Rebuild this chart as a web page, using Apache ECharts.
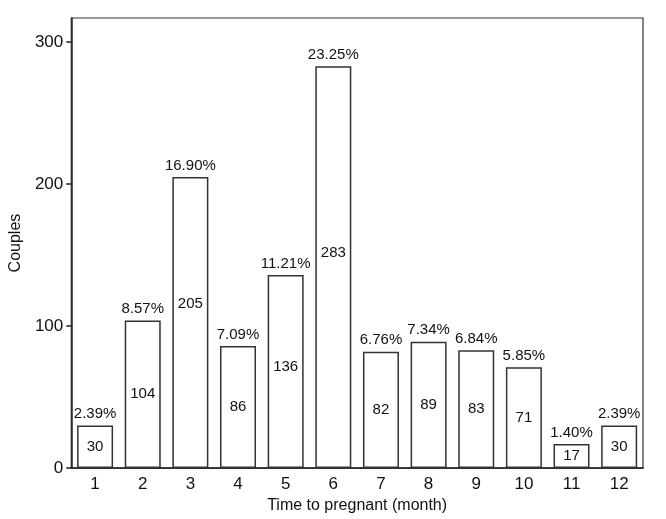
<!DOCTYPE html>
<html><head><meta charset="utf-8">
<script src="https://cdn.jsdelivr.net/npm/echarts@6/dist/echarts.min.js"></script>
<style>html,body{margin:0;padding:0;background:#fff}#c{width:666px;height:519px}</style>
</head><body><div id="c"></div>
<script>
var months = ['1','2','3','4','5','6','7','8','9','10','11','12'];
var couples = [30,104,205,86,136,283,82,89,83,71,17,30];
var percents = ['2.39%','8.57%','16.90%','7.09%','11.21%','23.25%','6.76%','7.34%','6.84%','5.85%','1.40%','2.39%'];
var yTicks = [0,100,200,300];

var font = 'Liberation Sans, Arial, sans-serif';
var chart = echarts.init(document.getElementById('c'), null, {renderer:'canvas'});
var innerOffsets = {2: -19, 4: -5, 5: -14};
chart.setOption({
  animation:false,
  grid:{left:67,top:18,right:23,bottom:48,show:true,borderColor:'#333',borderWidth:1.2,backgroundColor:'#fff'},
  xAxis:{type:'category',data:months,
    name:'Time to pregnant (month)',nameLocation:'middle',nameGap:20,
    nameTextStyle:{fontFamily:font,fontSize:16,color:'#111'},
    axisLine:{lineStyle:{color:'#222',width:1.5}},
    axisTick:{alignWithLabel:true,length:6,lineStyle:{color:'#222',width:1.5}},
    axisLabel:{fontFamily:font,fontSize:17,color:'#111',margin:8}},
  yAxis:{type:'value',min:0,max:317,interval:100,
    name:'Couples',nameLocation:'middle',nameGap:39,
    nameTextStyle:{fontFamily:font,fontSize:16,color:'#111'},
    splitLine:{show:false},
    axisLine:{show:true,lineStyle:{color:'#222',width:1.5}},
    axisTick:{show:true,length:5,customValues:yTicks,lineStyle:{color:'#222',width:1.5}},
    axisLabel:{fontFamily:font,fontSize:17,color:'#111',margin:8,customValues:yTicks}},
  series:[
    {type:'bar',barWidth:36,
     data:couples.map(function(v,i){
       var d={value:v};
       if(innerOffsets[i]!==undefined) d.label={offset:[0,innerOffsets[i]]};
       return d;}),
     itemStyle:{color:'#fff',borderColor:'#333',borderWidth:1.5},
     label:{show:true,position:'inside',fontFamily:font,fontSize:15,color:'#111'}},
    {type:'bar',barWidth:36,barGap:'-100%',
     data:couples,
     itemStyle:{color:'rgba(0,0,0,0)'},
     label:{show:true,position:'top',distance:4,fontFamily:font,fontSize:15,color:'#111',
       formatter:function(p){return percents[p.dataIndex];}}}
  ]
});
</script></body></html>
